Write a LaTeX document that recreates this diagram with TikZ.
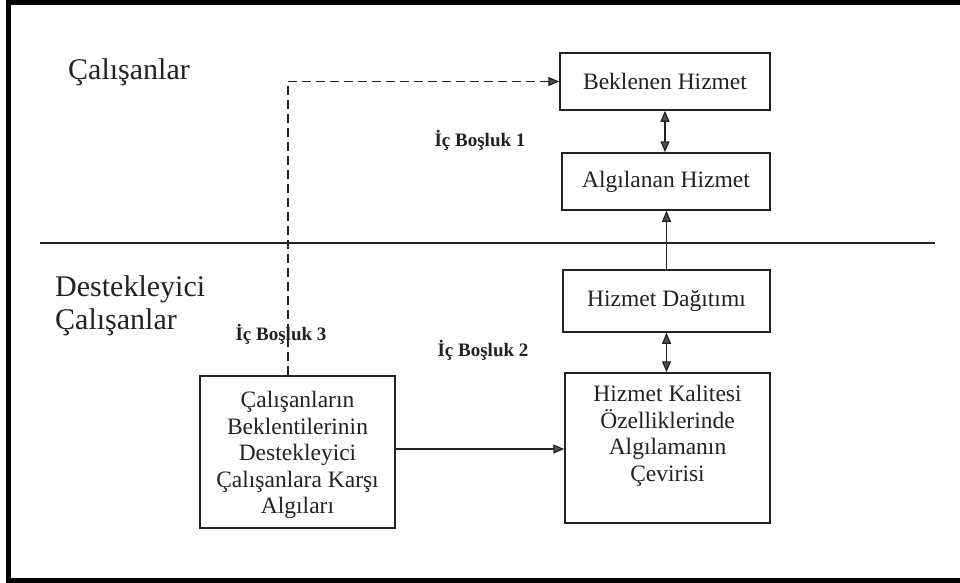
\documentclass[tikz,border=0pt]{standalone}
\usepackage{fontspec}
\setmainfont{Liberation Serif}
\usetikzlibrary{arrows.meta,calc}
\definecolor{ink}{HTML}{222222}
\definecolor{tipgray}{HTML}{505050}
\begin{document}
\begin{tikzpicture}[x=1pt,y=-1pt,
  box/.style={draw=ink,line width=1.5pt,inner sep=0pt},
  boxtext/.style={text=ink,font=\fontsize{23.5}{26.5}\selectfont,align=center,inner sep=0pt},
  gaplabel/.style={text=ink,font=\bfseries\fontsize{19}{21}\selectfont,inner sep=0pt},
  grouplabel/.style={text=ink,font=\fontsize{30}{33}\selectfont,align=left,inner sep=0pt},
  link/.style={draw=ink,line width=1.2pt,-{Triangle[length=11pt,width=9pt,fill=tipgray]}},
  duallink/.style={draw=ink,line width=1.2pt,{Triangle[length=11pt,width=9pt,fill=tipgray]}-{Triangle[length=11pt,width=9pt,fill=tipgray]}},
  dashlink/.style={link,line width=1.4pt,dash pattern=on 9pt off 5pt}]
% page area
\useasboundingbox (0,0) rectangle (960,582);
\fill[white] (0,0) rectangle (960,582);
% thick frame (open on the right)
\draw[line width=5pt,black] (960,2) -- (8.5,2) -- (8.5,580) -- (960,580);

% dividing line between the two groups
\draw[ink,line width=1.5pt] (40,243) -- (935,243);

% group labels
\node[grouplabel,anchor=west] (grpTop) at (68,72) {Çalışanlar};
\node[grouplabel,anchor=west] (grpBot) at (55,306) {Destekleyici\\Çalışanlar};

% boxes
\node[box,minimum width=210pt,minimum height=57pt] (bekl) at (665,81.5) {};
\node[boxtext] (beklT) at (bekl.center) {Beklenen Hizmet};
\node[box,minimum width=208pt,minimum height=57pt] (algi) at (666,181.5) {};
\node[boxtext] (algiT) at (algi.center) {Algılanan Hizmet};
\node[box,minimum width=207pt,minimum height=62pt] (dagi) at (666.5,301) {};
\node[boxtext] (dagiT) at (dagi.center) {Hizmet Dağıtımı};
\node[box,minimum width=205pt,minimum height=150pt] (kal) at (667.5,448) {};
\node[boxtext] (kalT) at (667.5,436) {Hizmet Kalitesi\\Özelliklerinde\\Algılamanın\\Çevirisi};
\node[box,minimum width=195pt,minimum height=152pt] (cal) at (297.5,452) {};
\node[boxtext] (calT) at (297.5,455) {Çalışanların\\Beklentilerinin\\Destekleyici\\Çalışanlara Karşı\\Algıları};

% gap labels
\node[gaplabel] (gap1) at (480,140) {İç Boşluk 1};
\node[gaplabel] (gap3) at (281,334) {İç Boşluk 3};
\node[gaplabel] (gap2) at (483,350) {İç Boşluk 2};

% connectors
\coordinate (dcol) at (288,0);
\draw[dashlink] (cal.north -| dcol) |- (bekl.west);
\draw[duallink] (bekl.south) -- (algi.north -| bekl.south);
\draw[link] (dagi.north) -- (algi.south -| dagi.north);
\draw[duallink] (dagi.south) -- (kal.north -| dagi.south);
\draw[link] (cal.east |- 0,449) -- (kal.west |- 0,449);
\end{tikzpicture}
\end{document}
